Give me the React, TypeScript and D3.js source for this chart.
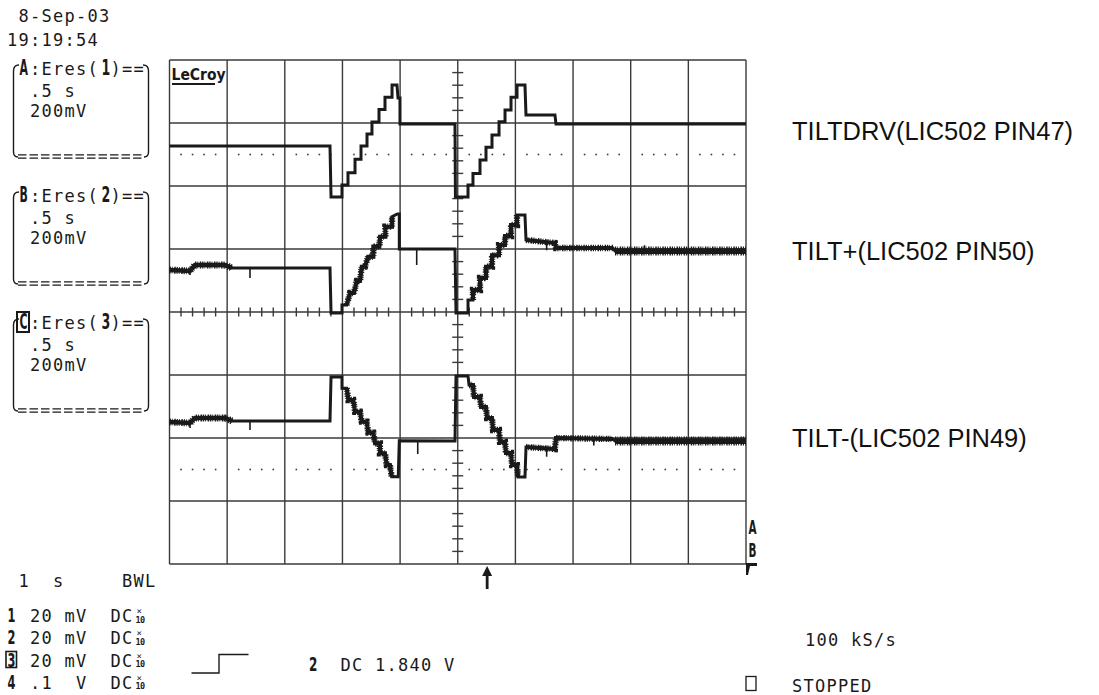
import React from "react";
import * as d3 from "d3";

const WIDTH = 1099;
const HEIGHT = 695;

// Screen: 10 horizontal divisions at 0.5 s/div, 8 vertical divisions (200 mV/div)
const timeDomain: [number, number] = [-2.5, 2.5];
const divDomain: [number, number] = [-4, 4];
const timePerDiv = 0.5;
const subdivisions = 5;
const dottedLevels = [2.5, -2.5];
const triggerTime = 0.255;

// Traces: [time (s), level (div from centre)]
const tiltDrv: [number, number][] = [
  [-2.5, 2.635], [-1.108, 2.635], [-1.099, 1.825], [-1.004, 1.825], [-1.004, 2.016], [-0.952, 2.016],
  [-0.952, 2.211], [-0.891, 2.211], [-0.891, 2.424], [-0.839, 2.424], [-0.839, 2.635], [-0.787, 2.635],
  [-0.787, 2.825], [-0.744, 2.825], [-0.744, 3.016], [-0.683, 3.016], [-0.683, 3.214], [-0.631, 3.214],
  [-0.631, 3.408], [-0.570, 3.408], [-0.570, 3.603], [-0.527, 3.603], [-0.518, 3.397], [-0.501, 3.397],
  [-0.501, 2.984], [-0.024, 2.984], [-0.020, 1.825], [0.089, 1.825], [0.089, 2.016], [0.132, 2.016],
  [0.132, 2.2], [0.193, 2.2], [0.193, 2.413], [0.245, 2.413], [0.245, 2.614], [0.297, 2.614],
  [0.297, 2.81], [0.358, 2.81], [0.358, 3.02], [0.410, 3.02], [0.410, 3.206], [0.462, 3.206],
  [0.462, 3.408], [0.514, 3.408], [0.514, 3.603], [0.583, 3.603], [0.592, 3.127], [0.843, 3.127],
  [0.852, 2.984], [2.5, 2.984],
];

const tiltPlus: [number, number][] = [
  [-2.5, 0.667], [-2.322, 0.651], [-2.279, 0.746], [-2.019, 0.746], [-1.958, 0.698], [-1.108, 0.698],
  [-1.099, -0.016], [-1.004, -0.016], [-1.004, 0.111], [-0.963, 0.111], [-0.935, 0.302], [-0.900, 0.302],
  [-0.876, 0.492], [-0.848, 0.492], [-0.833, 0.719], [-0.804, 0.719], [-0.778, 0.878], [-0.732, 0.878],
  [-0.732, 1.037], [-0.680, 1.037], [-0.674, 1.195], [-0.628, 1.195], [-0.628, 1.354], [-0.570, 1.354],
  [-0.570, 1.513], [-0.524, 1.556], [-0.507, 1.556], [-0.507, 1.0], [-0.024, 1.0], [-0.015, -0.016],
  [0.089, -0.016], [0.089, 0.19], [0.132, 0.19], [0.132, 0.349], [0.193, 0.349], [0.193, 0.54],
  [0.245, 0.54], [0.245, 0.719], [0.297, 0.719], [0.297, 0.9], [0.358, 0.9], [0.358, 1.063],
  [0.410, 1.063], [0.410, 1.206], [0.462, 1.206], [0.462, 1.381], [0.514, 1.381], [0.514, 1.540],
  [0.583, 1.540], [0.592, 1.143], [0.843, 1.095], [0.852, 1.016], [1.346, 1.016], [1.364, 0.968],
  [2.5, 0.968],
];

const tiltMinus: [number, number][] = [
  [-2.5, -1.746], [-2.322, -1.762], [-2.279, -1.683], [-2.019, -1.683], [-1.958, -1.73], [-1.108, -1.73],
  [-1.099, -1.032], [-1.004, -1.032], [-1.004, -1.211], [-0.963, -1.211], [-0.949, -1.397], [-0.906, -1.397],
  [-0.891, -1.583], [-0.848, -1.583], [-0.833, -1.741], [-0.790, -1.741], [-0.776, -1.916], [-0.732, -1.916],
  [-0.718, -2.084], [-0.675, -2.084], [-0.675, -2.243], [-0.631, -2.243], [-0.616, -2.429], [-0.588, -2.429],
  [-0.573, -2.614], [-0.516, -2.614], [-0.507, -2.043], [-0.024, -2.048], [-0.015, -1.016], [0.089, -1.016],
  [0.098, -1.159], [0.132, -1.159], [0.141, -1.349], [0.193, -1.349], [0.202, -1.508], [0.245, -1.508],
  [0.254, -1.683], [0.297, -1.683], [0.306, -1.873], [0.358, -1.873], [0.366, -2.063], [0.410, -2.063],
  [0.418, -2.238], [0.462, -2.238], [0.471, -2.429], [0.514, -2.429], [0.523, -2.619], [0.583, -2.619],
  [0.592, -2.143], [0.843, -2.175], [0.852, -2.0], [1.346, -2.016], [1.364, -2.048], [2.5, -2.048],
];

// Noisy stretches: [from s, to s, peak-to-peak in div]
const noisePlus: [number, number, number][] = [
  [-2.5, -1.11, 0.11], [-1.0, -0.53, 0.1], [-0.5, -0.03, 0.1], [0.09, 0.58, 0.1], [0.59, 1.35, 0.1], [1.36, 2.5, 0.14],
];
const noiseMinus: [number, number, number][] = [
  [-2.5, -1.11, 0.11], [-1.0, -0.52, 0.1], [-0.5, -0.03, 0.1], [0.09, 0.58, 0.1], [0.59, 1.35, 0.1], [1.36, 2.5, 0.14],
];
// Glitches: [time s, base level, tip level]
const spikesPlus: [number, number, number][] = [
  [-2.322, 0.651, 0.587], [-1.802, 0.698, 0.54], [-0.356, 1.0, 0.746], [0.771, 1.11, 0.98], [1.62, 0.968, 1.06],
];
const spikesMinus: [number, number, number][] = [
  [-2.322, -1.762, -1.84], [-1.802, -1.73, -1.873], [-0.347, -2.048, -2.254], [0.771, -2.16, -2.297], [1.18, -2.016, -2.12],
];

const traceNames = ["TILTDRV(LIC502 PIN47)", "TILT+(LIC502 PIN50)", "TILT-(LIC502 PIN49)"];
const zoomLetters = ["A", "B", "C"];
const zoomSources = ["1", "2", "3"];
const zoomTime = ".5 s";
const zoomVolt = "200mV";
const dateText = "8-Sep-03";
const timeText = "19:19:54";
const channels = [
  { ch: "1", value: "20", unit: "mV" },
  { ch: "2", value: "20", unit: "mV" },
  { ch: "3", value: "20", unit: "mV" },
  { ch: "4", value: ".1", unit: " V" },
];
const triggerText = "DC 1.840 V";
const sampleRate = "100 kS/s";
const statusText = "STOPPED";

// ---- layout ----
const PLOT = { left: 169.5, right: 746, top: 60, bottom: 564 };
const MONO = "'DejaVu Sans Mono', monospace";
const MONO_SIZE = 17;
const CELL = 11.5;
const COL0 = 7;
const INK = "#1a1a1a";
const GRID = "#3a3a3a";

const Mono = ({ col, x, y, children, size = MONO_SIZE }: any) => (
  <text
    x={x !== undefined ? x : COL0 + col * CELL}
    y={y}
    fontFamily={MONO}
    fontSize={size}
    letterSpacing={CELL - 0.602 * size}
    fill={INK}
    style={{ whiteSpace: "pre" }}
  >
    {children}
  </text>
);

const Glyph = ({ x, y, ch, size = 20, sx = 0.55 }: any) => (
  <text
    transform={`translate(${x},${y}) scale(${sx},1)`}
    fontFamily="'DejaVu Sans', sans-serif"
    fontWeight="bold"
    fontSize={size}
    fill={INK}
  >
    {ch}
  </text>
);

export default function App() {
  const x = d3.scaleLinear().domain(timeDomain).range([PLOT.left, PLOT.right]);
  const y = d3.scaleLinear().domain(divDomain).range([PLOT.bottom, PLOT.top]);
  const line = d3
    .line<[number, number]>()
    .x((d) => x(d[0]))
    .y((d) => y(d[1]));

  const nDivX = Math.round((timeDomain[1] - timeDomain[0]) / timePerDiv);
  const nDivY = divDomain[1] - divDomain[0];
  const majorT = d3.range(nDivX + 1).map((i) => timeDomain[0] + i * timePerDiv);
  const majorV = d3.range(nDivY + 1).map((i) => divDomain[0] + i);
  const minorT = d3
    .range(nDivX * subdivisions + 1)
    .filter((i) => i % subdivisions !== 0)
    .map((i) => timeDomain[0] + (i * timePerDiv) / subdivisions);
  const minorV = d3
    .range(nDivY * subdivisions + 1)
    .filter((i) => i % subdivisions !== 0)
    .map((i) => divDomain[0] + i / subdivisions);

  const x0 = x(0);
  const y0 = y(0);
  const divPx = y(0) - y(1);

  const noisePath = (trace: [number, number][], spans: [number, number, number][], key: string) =>
    spans.map(([a, b, amp], i) => {
      const pts = trace.filter((p) => p[0] >= a && p[0] <= b);
      const d = line(pts) || "";
      return (
        <g key={key + i} fill="none" stroke={INK}>
          <path d={d} strokeWidth={amp * divPx * 0.65} />
          <path d={d} strokeWidth={amp * divPx} strokeDasharray="1.2 1.1 0.8 1.6 1.5 0.9" />
        </g>
      );
    });

  const spikePaths = (sp: [number, number, number][], key: string) =>
    sp.map(([t, a, b], i) => (
      <line key={key + i} x1={x(t)} x2={x(t)} y1={y(a)} y2={y(b)} stroke={INK} strokeWidth={1.6} />
    ));

  const boxOffsets = [0, 127, 254];
  const rowBase = [622, 644, 666.5, 688.5];

  return (
    <svg
      width={WIDTH}
      height={HEIGHT}
      style={{ position: "absolute", left: 0, top: 0, background: "#fff" }}
    >
      <rect x={0} y={0} width={WIDTH} height={HEIGHT} fill="#fff" />

      {/* grid */}
      <g stroke={GRID} strokeWidth={1.4}>
        {majorT.map((t) => (
          <line key={"vt" + t} x1={x(t)} x2={x(t)} y1={PLOT.top} y2={PLOT.bottom} />
        ))}
        {majorV.map((v) => (
          <line key={"hv" + v} x1={PLOT.left} x2={PLOT.right} y1={y(v)} y2={y(v)} />
        ))}
        {minorT.map((t) => (
          <line key={"mt" + t} x1={x(t)} x2={x(t)} y1={y0 - 4.5} y2={y0 + 4.5} />
        ))}
        {minorV.map((v) => (
          <line key={"mv" + v} x1={x0 - 5.5} x2={x0 + 5.5} y1={y(v)} y2={y(v)} />
        ))}
      </g>
      <g fill={GRID}>
        {dottedLevels.map((lv) =>
          minorT.map((t) => (
            <rect key={"d" + lv + t} x={x(t) - 0.8} y={y(lv) - 0.8} width={1.6} height={1.6} />
          ))
        )}
      </g>

      {/* LeCroy logo */}
      <text x={171.5} y={79.5} fontFamily="'DejaVu Sans Condensed', 'DejaVu Sans', sans-serif" fontWeight="bold" fontSize={15.5} fill={INK}>
        LeCroy
      </text>
      <line x1={172} x2={215} y1={84} y2={84} stroke={INK} strokeWidth={2} />

      {/* traces */}
      <g fill="none" stroke={INK} strokeLinejoin="miter">
        <path d={line(tiltDrv) || ""} strokeWidth={3} />
        <path d={line(tiltPlus) || ""} strokeWidth={3} />
        <path d={line(tiltMinus) || ""} strokeWidth={3} />
      </g>
      {noisePath(tiltPlus, noisePlus, "np")}
      {noisePath(tiltMinus, noiseMinus, "nm")}
      {spikePaths(spikesPlus, "sp")}
      {spikePaths(spikesMinus, "sm")}

      {/* right-edge markers */}
      <Glyph x={748.5} y={534} ch="A" size={19} sx={0.55} />
      <Glyph x={748.5} y={557} ch="B" size={19} sx={0.55} />
      <path d={`M${PLOT.right},${PLOT.bottom - 1} h11 v3 h-7 l-2,9 h-2 z`} fill={INK} />

      {/* trigger arrow */}
      <line x1={x(triggerTime)} x2={x(triggerTime)} y1={574} y2={589} stroke={INK} strokeWidth={2.8} />
      <path d={`M${x(triggerTime)},566 l-5,10 h10 z`} fill={INK} />

      {/* trace names */}
      {traceNames.map((n, i) => (
        <text
          key={n}
          x={792}
          y={[140, 260, 447][i]}
          fontFamily="'Liberation Sans', Arial, sans-serif"
          fontSize={25.5}
          fill="#111"
        >
          {n}
        </text>
      ))}

      {/* date/time */}
      <Mono col={1} y={22}>{dateText}</Mono>
      <Mono col={0} y={46}>{timeText}</Mono>

      {/* zoom trace boxes */}
      {boxOffsets.map((o, i) => (
        <g key={"box" + i}>
          <path
            d={`M19,${65 + o} Q13.5,${65 + o} 13.5,${71 + o} V${152 + o} Q13.5,${157 + o} 18,${157 + o}
                M143,${65 + o} Q148.5,${65 + o} 148.5,${71 + o} V${152 + o} Q148.5,${157 + o} 144,${157 + o}`}
            fill="none"
            stroke={INK}
            strokeWidth={1.4}
          />
          <line x1={18} x2={144} y1={154.8 + o} y2={154.8 + o} stroke={INK} strokeWidth={1.3} strokeDasharray="8.5 3" />
          <line x1={18} x2={144} y1={158.2 + o} y2={158.2 + o} stroke={INK} strokeWidth={1.3} strokeDasharray="8.5 3" />
          {i === 2 && (
            <rect x={17} y={58 + o} width={12} height={20} fill="none" stroke={INK} strokeWidth={2} />
          )}
          <Glyph x={19.5} y={75 + o} ch={zoomLetters[i]} size={21} sx={0.52} />
          <Mono col={2} y={75 + o}>{":Eres("}</Mono>
          <Glyph x={101.5} y={75 + o} ch={zoomSources[i]} size={21} sx={0.6} />
          <Mono col={9} y={75 + o}>{")=="}</Mono>
          <Mono col={2} y={97 + o}>{zoomTime}</Mono>
          <Mono col={2} y={117 + o}>{zoomVolt}</Mono>
        </g>
      ))}

      {/* timebase */}
      <Mono col={1} y={587}>{"1  s"}</Mono>
      <Mono col={10} y={587}>{"BWL"}</Mono>

      {/* channel rows */}
      {channels.map((c, i) => (
        <g key={"ch" + i}>
          {i === 2 && (
            <rect x={6} y={rowBase[i] - 15} width={10.5} height={16} fill="none" stroke={INK} strokeWidth={1.6} />
          )}
          <Glyph x={7.5} y={rowBase[i]} ch={c.ch} size={19} sx={0.6} />
          <Mono col={2} y={rowBase[i]}>{c.value}</Mono>
          <Mono col={5} y={rowBase[i]}>{c.unit}</Mono>
          <Mono col={9} y={rowBase[i]}>{"DC"}</Mono>
          <text x={136.5} y={rowBase[i] - 8} fontFamily={MONO} fontSize={9} fill={INK}>×</text>
          <text x={135.5} y={rowBase[i] + 0.5} fontFamily={MONO} fontWeight="bold" fontSize={8.5} fill={INK} letterSpacing={-0.5}>10</text>
        </g>
      ))}

      {/* trigger info */}
      <path d="M191.5,673 H219 V654.5 H248.5" fill="none" stroke={INK} strokeWidth={1.4} />
      <Glyph x={309} y={671} ch="2" size={20} sx={0.6} />
      <Mono col={29} y={671}>{triggerText}</Mono>

      <Mono x={805} y={646}>{sampleRate}</Mono>
      <rect x={746} y={676.5} width={10} height={14} fill="none" stroke={INK} strokeWidth={1.3} />
      <Mono x={792} y={692}>{statusText}</Mono>
    </svg>
  );
}
